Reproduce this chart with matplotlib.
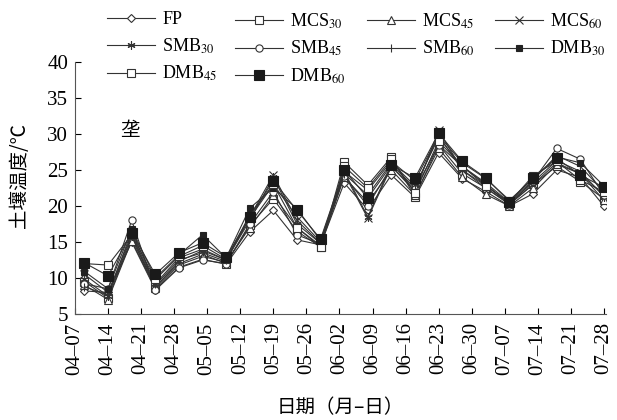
import matplotlib
matplotlib.use("Agg")
import matplotlib.pyplot as plt

# Data: day offsets from 04-07 (observations every 5 days)
days = [2 + 5 * k for k in range(23)]
tick_labels = ["04–07", "04–14", "04–21", "04–28", "05–05", "05–12", "05–19", "05–26",
               "06–02", "06–09", "06–16", "06–23", "06–30", "07–07", "07–14", "07–21", "07–28"]

FP    = [8.2, 8.0, 15.0, 8.4, 11.5, 12.6, 11.9, 16.4, 19.4, 15.3, 14.6, 23.2, 19.5, 24.3, 21.2, 27.4, 23.8, 22.0, 20.0, 21.7, 25.0, 24.0, 20.0]
MCS30 = [9.5, 7.2, 15.5, 8.8, 12.0, 13.3, 12.0, 17.3, 21.0, 16.5, 14.3, 26.1, 22.9, 26.8, 21.3, 28.5, 24.5, 22.5, 20.2, 23.0, 25.5, 23.4, 21.0]
MCS45 = [9.0, 7.0, 15.2, 8.6, 11.8, 13.0, 12.2, 17.0, 21.5, 17.0, 14.5, 24.0, 20.5, 25.0, 21.5, 28.0, 24.0, 21.6, 20.0, 22.5, 25.8, 24.5, 20.8]
MCS60 = [10.5, 8.0, 16.0, 9.0, 12.5, 13.5, 12.3, 18.5, 24.3, 18.0, 14.8, 24.5, 18.3, 25.5, 22.0, 30.5, 25.0, 22.5, 20.3, 23.0, 26.0, 24.5, 21.5]
SMB30 = [9.8, 7.5, 15.8, 8.7, 12.3, 13.8, 12.5, 18.0, 24.0, 17.5, 14.8, 24.8, 18.5, 25.8, 22.5, 29.8, 25.0, 22.8, 20.4, 23.3, 26.3, 24.8, 21.3]
SMB45 = [9.2, 8.5, 18.0, 8.3, 11.4, 12.5, 12.0, 17.5, 22.0, 16.0, 14.7, 24.2, 20.0, 25.5, 22.3, 28.5, 25.5, 23.0, 20.2, 23.5, 28.0, 26.5, 21.5]
SMB60 = [8.8, 7.6, 16.5, 9.2, 12.8, 14.0, 12.5, 18.8, 23.0, 18.5, 15.0, 24.5, 21.5, 26.0, 22.8, 29.5, 25.5, 23.2, 20.5, 23.6, 27.0, 25.5, 22.0]
DMB30 = [10.9, 8.5, 16.8, 10.0, 13.2, 16.0, 12.8, 19.7, 22.5, 19.6, 15.2, 24.8, 22.2, 26.2, 23.5, 29.8, 26.0, 23.8, 20.8, 23.8, 26.8, 26.0, 22.8]
DMB45 = [12.0, 11.8, 16.0, 9.8, 13.0, 14.5, 12.6, 18.3, 23.0, 17.0, 14.3, 25.5, 22.5, 26.5, 21.8, 29.0, 25.5, 22.8, 20.5, 24.2, 26.2, 23.6, 22.0]
DMB60 = [12.1, 10.3, 16.3, 10.5, 13.5, 14.9, 12.9, 18.5, 23.5, 19.4, 15.4, 25.0, 21.1, 25.7, 23.9, 30.1, 26.2, 23.9, 20.6, 23.9, 26.6, 24.3, 22.6]

plt.rcParams['font.family'] = ['Liberation Serif', 'Noto Sans CJK SC']
plt.rcParams['mathtext.fontset'] = 'stix'

fig = plt.figure(figsize=(6.17, 4.2), dpi=100)
ax = fig.add_axes([0.1216, 0.2524, 0.861, 0.6])

series = [
    ("FP", FP, dict(marker='D', ms=4.2, mfc='white', mec='#333333')),
    ("MCS$_{30}$", MCS30, dict(marker='s', ms=5.2, mfc='white', mec='#333333')),
    ("MCS$_{45}$", MCS45, dict(marker='^', ms=5.2, mfc='white', mec='#333333')),
    ("MCS$_{60}$", MCS60, dict(marker='x', ms=5.2, mec='#333333')),
    ("SMB$_{30}$", SMB30, dict(marker=(6, 2, 0), ms=5.8, mec='#333333')),
    ("SMB$_{45}$", SMB45, dict(marker='o', ms=5.2, mfc='white', mec='#333333')),
    ("SMB$_{60}$", SMB60, dict(marker='|', ms=6, mec='#333333')),
    ("DMB$_{30}$", DMB30, dict(marker='s', ms=4.5, mfc='#222222', mec='#222222')),
    ("DMB$_{45}$", DMB45, dict(marker='s', ms=6.0, mfc='white', mec='#333333')),
    ("DMB$_{60}$", DMB60, dict(marker='s', ms=7.5, mfc='#1a1a1a', mec='#1a1a1a')),
]

handles = {}
for name, vals, kw in series:
    h, = ax.plot(days, vals, color='#333333', lw=0.8, mew=0.8, label=name, **kw)
    handles[name] = h

ax.set_xlim(0, 112.5)
ax.set_ylim(5, 40)
ax.set_xticks([7 * i for i in range(17)])
ax.set_xticklabels(tick_labels, rotation=90, fontsize=15)
ax.set_yticks(range(5, 41, 5))
ax.tick_params(axis='y', labelsize=15, direction='in', length=4, pad=5)
ax.tick_params(axis='x', direction='in', length=4, pad=6)
for s in ['top', 'right']:
    ax.spines[s].set_visible(False)
for s in ['left', 'bottom']:
    ax.spines[s].set_color('#555555')

ax.set_xlabel("日期（月–日）", fontsize=14, family=['Noto Sans CJK SC'], labelpad=16)
ax.set_ylabel("土壤温度/℃", fontsize=14, family=['Noto Sans CJK SC', 'DejaVu Sans'])
ax.yaxis.set_label_coords(-0.085, 0.55)
ax.text(0.104, 0.73, "垄", transform=ax.transAxes, fontsize=14,
        family=['Noto Sans CJK SC'], ha='center', va='center')

# Legend laid out row-wise in four columns
columns = [["FP", "SMB$_{30}$", "DMB$_{45}$"],
           ["MCS$_{30}$", "SMB$_{45}$", "DMB$_{60}$"],
           ["MCS$_{45}$", "SMB$_{60}$"],
           ["MCS$_{60}$", "DMB$_{30}$"]]
col_x = [107, 235, 367, 495]
for names, xp in zip(columns, col_x):
    fig.legend(handles=[handles[n] for n in names], labels=names,
               loc='upper left', bbox_to_anchor=(xp / 617, 0.973),
               frameon=False, fontsize=13, handlelength=2.65,
               handletextpad=0.4, labelspacing=0.45, borderpad=0,
               borderaxespad=0)

fig.savefig("out.png", dpi=100)
